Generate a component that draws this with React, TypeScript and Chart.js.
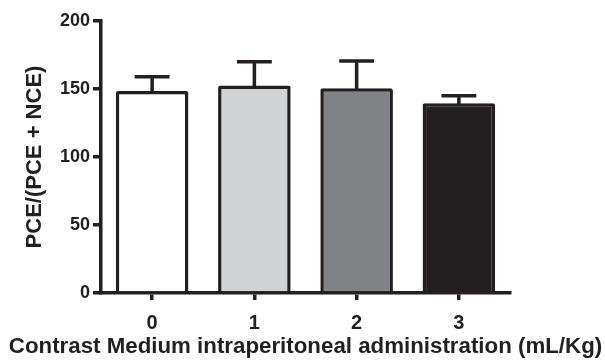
import React, { useEffect, useRef } from "react";
import { Chart, registerables } from "chart.js";

Chart.register(...registerables);

const categories = ["0", "1", "2", "3"];
const means = [148.5, 152.5, 150.5, 139.5];
const errors = [10.5, 17.5, 20, 5.5];
const barColors = ["#ffffff", "#d1d2d4", "#808285", "#231f20"];
const yTicks = [0, 50, 100, 150, 200];
const yTitle = "PCE/(PCE + NCE)";
const xTitle = "Contrast Medium intraperitoneal administration (mL/Kg)";

const INK = "#231f20";
const FONT = "'Liberation Sans', Arial, Helvetica, sans-serif";

const errorBarPlugin = {
  id: "errorBars",
  afterDatasetsDraw(chart: any) {
    const meta = chart.getDatasetMeta(0);
    const yScale = chart.scales.y;
    const ctx = chart.ctx;
    ctx.save();
    ctx.strokeStyle = INK;
    ctx.lineWidth = 3.5;
    ctx.lineCap = "butt";
    meta.data.forEach((el: any, i: number) => {
      const x = el.x;
      const yTop = el.y;
      const yErr = yScale.getPixelForValue(means[i] + errors[i]);
      const half = el.width * 0.24;
      ctx.beginPath();
      ctx.moveTo(x, yTop + 2);
      ctx.lineTo(x, yErr);
      ctx.moveTo(x - half, yErr);
      ctx.lineTo(x + half, yErr);
      ctx.stroke();
    });
    ctx.restore();
  },
};

const xTitlePlugin = {
  id: "xTitle",
  afterDraw(chart: any) {
    const ctx = chart.ctx;
    ctx.save();
    ctx.fillStyle = INK;
    ctx.font = `bold 22.3px ${FONT}`;
    ctx.textAlign = "center";
    ctx.textBaseline = "middle";
    ctx.fillText(xTitle, 305.5, 346.5);
    ctx.restore();
  },
};

export default function App() {
  const ref = useRef<HTMLCanvasElement | null>(null);

  useEffect(() => {
    document.body.style.margin = "0";
    const canvas = ref.current;
    if (!canvas) return;
    const chart = new Chart(canvas, {
      type: "bar",
      data: {
        labels: categories,
        datasets: [
          {
            data: means,
            backgroundColor: barColors,
            borderColor: INK,
            borderWidth: 3.5,
            borderRadius: 2,
            barPercentage: 0.71,
            categoryPercentage: 1,
          },
        ],
      },
      options: {
        animation: false,
        responsive: false,
        devicePixelRatio: 1,
        layout: { padding: { top: 21, right: 95, bottom: 0, left: 0 } },
        plugins: {
          legend: { display: false },
          tooltip: { enabled: false },
          title: { display: false },
        },
        scales: {
          x: {
            type: "category",
            grid: {
              display: true,
              drawOnChartArea: false,
              offset: false,
              color: INK,
              lineWidth: 3.5,
              tickLength: 7,
            },
            border: { display: true, color: INK, width: 3.5 },
            ticks: {
              color: INK,
              font: { family: FONT, size: 20, weight: "bold" },
              padding: 11,
              maxRotation: 0,
            },
            afterFit(scale: any) {
              scale.height = 70;
            },
          },
          y: {
            min: 0,
            max: 200,
            afterBuildTicks(scale: any) {
              scale.ticks = yTicks.map((v) => ({ value: v }));
            },
            grid: {
              display: true,
              drawOnChartArea: false,
              color: INK,
              lineWidth: 3.5,
              tickLength: 8,
            },
            border: { display: true, color: INK, width: 3.5 },
            ticks: {
              color: INK,
              font: { family: FONT, size: 18, weight: "bold" },
              padding: 3,
            },
            title: {
              display: true,
              text: yTitle,
              color: INK,
              font: { family: FONT, size: 22, weight: "bold" },
              padding: { top: 22, bottom: 0 },
            },
            afterFit(scale: any) {
              scale.width = 101;
            },
          },
        },
      },
      plugins: [errorBarPlugin, xTitlePlugin],
    });
    return () => chart.destroy();
  }, []);

  return (
    <div style={{ width: 605, height: 363, background: "#ffffff" }}>
      <canvas ref={ref} width={605} height={363} />
    </div>
  );
}
